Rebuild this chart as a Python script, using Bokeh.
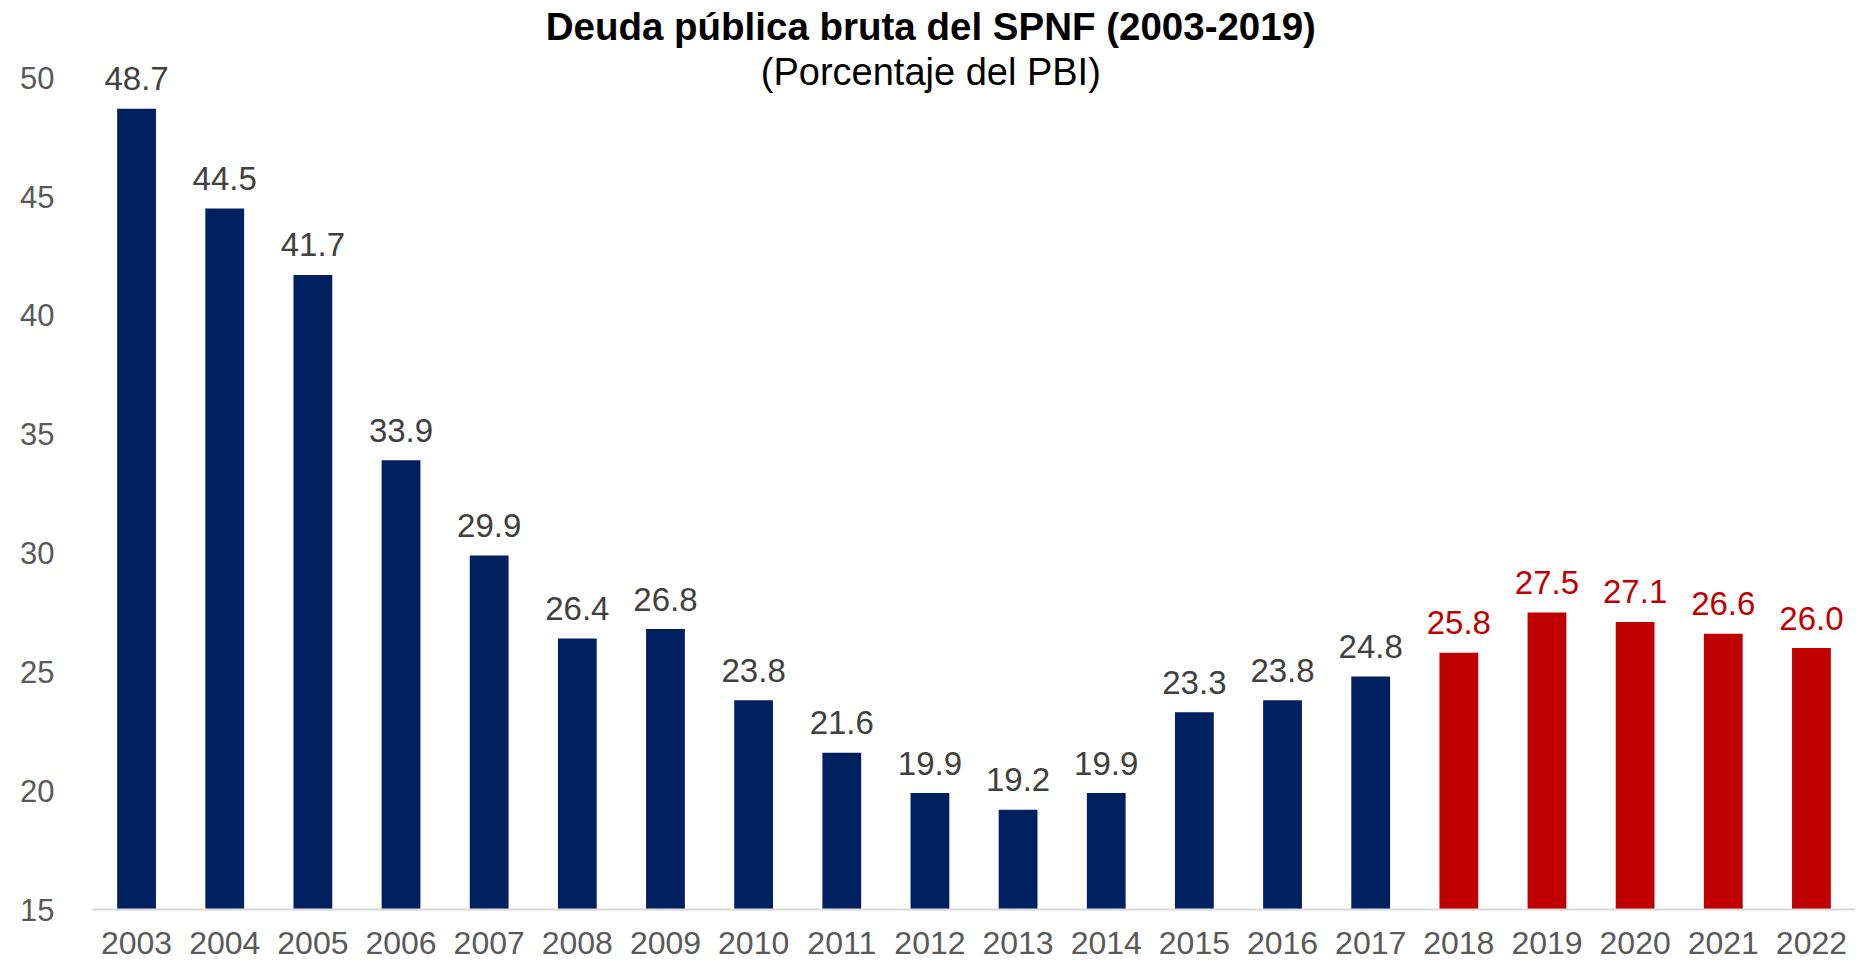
from bokeh.plotting import figure
from bokeh.models import ColumnDataSource, FixedTicker, Label, Range1d
from bokeh.embed import file_html
from bokeh.resources import INLINE
from bokeh.core.properties import value

# ---- data ----
years = ["2003", "2004", "2005", "2006", "2007", "2008", "2009", "2010", "2011", "2012",
         "2013", "2014", "2015", "2016", "2017", "2018", "2019", "2020", "2021", "2022"]
debt = [48.7, 44.5, 41.7, 33.9, 29.9, 26.4, 26.8, 23.8, 21.6, 19.9,
        19.2, 19.9, 23.3, 23.8, 24.8, 25.8, 27.5, 27.1, 26.6, 26.0]
first_projected_year = "2018"
y_ticks = [15, 20, 25, 30, 35, 40, 45, 50]
title_text = "Deuda pública bruta del SPNF (2003-2019)"
subtitle_text = "(Porcentaje del PBI)"

# ---- styles ----
NAVY = "#002060"
RED = "#C00000"
FONT = "Liberation Sans"

is_proj = [int(y) >= int(first_projected_year) for y in years]
bar_colors = [RED if p else NAVY for p in is_proj]
label_colors = [RED if p else "#404040" for p in is_proj]

src = ColumnDataSource(dict(
    year=years,
    val=debt,
    txt=[f"{v:.1f}" for v in debt],
    bar_color=bar_colors,
    label_color=label_colors,
))

Y_TOP = 53.25

p = figure(
    x_range=years,
    y_range=Range1d(15, Y_TOP),
    width=1857, height=963,
    output_backend="svg",
    toolbar_location=None,
    min_border_left=92, min_border_right=2, min_border_top=0, min_border_bottom=54,
)
p.outline_line_color = None
p.grid.grid_line_color = None
p.background_fill_color = "white"
p.border_fill_color = "white"

p.vbar(x="year", top="val", bottom=15, width=0.44, source=src,
       fill_color="bar_color", line_color=None)

p.text(x="year", y="val", text="txt", source=src,
       text_color="label_color", text_font=value(FONT), text_font_size="33px",
       text_align="center", text_baseline="alphabetic", y_offset=-30)

# y axis
p.yaxis.ticker = FixedTicker(ticks=y_ticks)
p.yaxis.axis_line_color = None
p.yaxis.major_tick_line_color = None
p.yaxis.minor_tick_line_color = None
p.yaxis.major_tick_out = 0
p.yaxis.major_tick_in = 0
p.yaxis.major_label_text_font = FONT
p.yaxis.major_label_text_font_size = "31px"
p.yaxis.major_label_text_color = "#595959"
p.yaxis.major_label_standoff = 38

# x axis
p.xaxis.axis_line_color = "#D9D9D9"
p.xaxis.axis_line_width = 2
p.xaxis.major_tick_line_color = None
p.xaxis.minor_tick_line_color = None
p.xaxis.major_tick_out = 0
p.xaxis.major_tick_in = 0
p.xaxis.major_label_text_font = FONT
p.xaxis.major_label_text_font_size = "32px"
p.xaxis.major_label_text_color = "#595959"
p.xaxis.major_label_standoff = 22
p.x_range.range_padding = 0

# title / subtitle
p.add_layout(Label(x=9.51, y=52.15, text=title_text, text_font=FONT,
                   text_font_size="38.5px", text_font_style="bold", text_color="black",
                   text_align="center", text_baseline="middle"))
p.add_layout(Label(x=9.51, y=50.25, text=subtitle_text, text_font=FONT,
                   text_font_size="38px", text_color="black",
                   text_align="center", text_baseline="middle"))

open("out.html", "w").write(file_html(p, INLINE))
